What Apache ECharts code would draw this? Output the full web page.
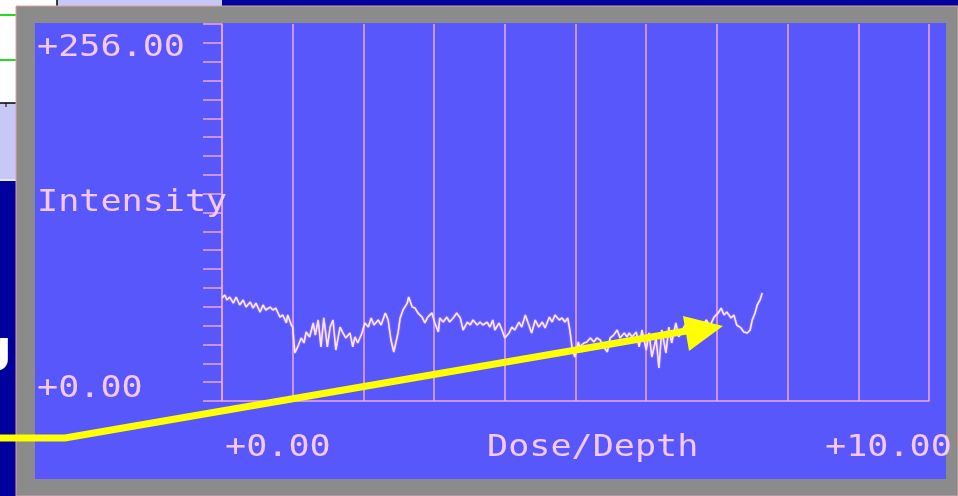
<!DOCTYPE html>
<html>
<head>
<meta charset="utf-8">
<script src="https://cdn.jsdelivr.net/npm/echarts@6/dist/echarts.min.js"></script>
<style>
html,body{margin:0;padding:0;background:#00009c;}
#chart{width:958px;height:496px;}
</style>
</head>
<body>
<div id="chart"></div>
<script>
// Dose/Depth positions (x) and Intensity values (y)
const dose = [0.00,0.04,0.07,0.11,0.16,0.20,0.25,0.30,0.34,0.40,0.44,0.48,0.54,0.58,0.62,0.68,0.72,0.76,0.82,0.86,0.91,0.93,0.98,1.00,
1.03,1.07,1.12,1.16,1.19,1.24,1.29,1.32,1.36,1.40,1.44,1.49,1.53,1.57,1.61,1.67,1.71,1.75,1.81,1.85,1.88,1.92,1.98,
2.02,2.07,2.11,2.15,2.21,2.25,2.31,2.35,2.39,2.43,2.49,2.52,2.56,2.62,2.64,2.69,2.73,2.77,2.83,2.87,2.91,2.97,
3.01,3.06,3.08,3.13,3.18,3.22,3.27,3.32,3.37,3.41,3.47,3.51,3.55,3.61,3.65,3.69,3.75,3.79,3.83,3.86,3.92,3.96,
4.00,4.06,4.10,4.14,4.20,4.24,4.29,4.34,4.38,4.43,4.48,4.53,4.57,4.63,4.67,4.71,4.77,4.81,4.85,4.89,4.92,4.95,4.99,
5.04,5.06,5.12,5.16,5.21,5.26,5.30,5.35,5.40,5.45,5.49,5.54,5.59,5.63,5.69,5.73,5.76,5.80,5.86,5.90,5.94,
6.00,6.04,6.08,6.14,6.18,6.22,6.28,6.32,6.36,6.42,6.46,6.55,6.62,6.70,6.77,6.85,6.90,6.96,
7.02,7.06,7.10,7.14,7.20,7.24,7.28,7.34,7.38,7.43,7.47,7.50,7.54,7.57,7.61,7.64];
const intensity = [69.9,72.0,68.6,70.6,66.5,70.6,65.2,68.6,63.8,67.2,63.1,66.5,60.4,65.2,61.8,63.8,61.8,63.1,57.0,58.4,53.0,58.4,51.6,50.2,
32.6,36.7,42.8,39.4,46.9,43.5,53.0,44.8,55.0,36.7,56.4,36.7,50.2,55.0,34.6,50.2,46.2,42.8,46.2,36.7,43.5,39.4,46.2,
53.0,50.2,56.4,51.6,55.0,51.6,59.8,55.0,41.4,33.3,46.2,56.4,61.8,66.5,70.6,63.8,63.1,59.8,57.0,53.0,57.0,59.8,
53.0,46.9,56.4,53.6,57.0,53.6,56.4,59.8,56.4,48.2,53.6,51.6,55.0,51.6,53.6,51.6,53.6,50.2,55.0,48.2,53.0,48.2,
42.8,46.2,50.2,48.2,53.6,50.2,58.4,51.6,46.2,55.0,50.2,53.6,49.6,57.0,53.6,58.4,55.0,56.4,53.6,56.4,48.2,36.7,29.9,
40.1,36.7,39.4,40.1,42.8,40.1,42.8,41.4,36.7,33.3,42.8,44.8,48.2,42.8,46.2,43.5,46.2,43.5,46.9,36.7,48.2,
34.6,46.2,29.9,42.8,22.4,48.2,32.6,50.2,39.4,53.0,43.5,51.6,44.8,53.6,48.2,55.0,50.9,57.0,
59.8,63.1,58.4,60.4,56.4,58.4,51.6,49.6,46.9,46.2,48.2,55.0,59.8,65.2,68.6,73.3];

const yTickLabels = ['+0.00', '+256.00'];
const xTickLabels = ['+0.00', '+10.00'];
const yName = 'Intensity';
const xName = 'Dose/Depth';

const pink = '#f0a6ee';
const textColor = '#f6c8f6';
const FONT = 'DejaVu Sans Mono';

const chart = echarts.init(document.getElementById('chart'), null, {renderer: 'canvas'});

const seriesData = dose.map((d, i) => [d, intensity[i]]);

function txt(text, x, y) {
  return {
    type: 'text', x: x, y: y, scaleX: 1.17, z: 50,
    style: {text: text, x: 0, y: 0, fill: textColor, font: '30px "' + FONT + '"',
            textAlign: 'left', textVerticalAlign: 'middle'}
  };
}

const background = [
  // top-left white panel & lavender
  {type: 'rect', shape: {x: 0, y: 0, width: 16, height: 103}, style: {fill: '#ffffff'}, z: -100},
  {type: 'rect', shape: {x: 0, y: 103, width: 16, height: 77}, style: {fill: '#c8c8f8'}, z: -100},
  {type: 'line', shape: {x1: 0, y1: 180, x2: 16, y2: 180}, style: {stroke: '#e8e8ff', lineWidth: 2}, z: -99},
  {type: 'line', shape: {x1: 0, y1: 15, x2: 16, y2: 15}, style: {stroke: '#22dd22', lineWidth: 2}, z: -99},
  {type: 'line', shape: {x1: 0, y1: 60, x2: 16, y2: 60}, style: {stroke: '#22dd22', lineWidth: 2}, z: -99},
  {type: 'line', shape: {x1: 0, y1: 103, x2: 16, y2: 103}, style: {stroke: '#000000', lineWidth: 1.5}, z: -99},
  {type: 'line', shape: {x1: 6, y1: 103, x2: 6, y2: 107}, style: {stroke: '#000000', lineWidth: 1}, z: -99},
  {type: 'rect', shape: {x: 16, y: 0, width: 41, height: 6}, style: {fill: '#ffffff'}, z: -100},
  {type: 'rect', shape: {x: 57, y: 0, width: 165, height: 6}, style: {fill: '#c8c8f8'}, z: -100},
  {type: 'line', shape: {x1: 57, y1: 0, x2: 57, y2: 6}, style: {stroke: '#000000', lineWidth: 1.5}, z: -99},
  // gray frame
  {type: 'rect', shape: {x: 16, y: 6, width: 942, height: 490}, style: {fill: '#8b8b8b', stroke: '#e0a0a0', lineWidth: 1}, z: -98},
  // blue panel
  {type: 'rect', shape: {x: 35, y: 23, width: 911, height: 456}, style: {fill: '#5757fb'}, z: -97},
  // white glyph fragment at left edge
  {type: 'text', x: -20, y: 351, z: -96, style: {text: 'g', fill: '#ffffff', font: 'bold 44px "DejaVu Sans"', textAlign: 'left', textVerticalAlign: 'middle'}}
];

const option = {
  backgroundColor: '#00009c',
  animation: false,
  grid: {left: 222, right: 29, top: 24, bottom: 95, show: false},
  xAxis: {
    type: 'value', min: 0, max: 10, interval: 1,
    axisLine: {show: true, onZero: false, lineStyle: {color: pink, width: 1.5}},
    axisTick: {show: false},
    axisLabel: {show: false},
    splitLine: {show: true, lineStyle: {color: pink, width: 1.5}}
  },
  yAxis: {
    type: 'value', min: 0, max: 256, interval: 12.8,
    axisLine: {show: true, lineStyle: {color: pink, width: 1.5}},
    axisTick: {show: true, length: 19, lineStyle: {color: pink, width: 1.5}},
    axisLabel: {show: false},
    splitLine: {show: false}
  },
  series: [{
    type: 'line', data: seriesData, symbol: 'none', smooth: false,
    lineStyle: {color: '#fbe6fb', width: 1.6, shadowColor: 'rgba(255,170,255,0.7)', shadowBlur: 2},
    z: 5
  }],
  graphic: background
};
chart.setOption(option);

const p0 = chart.convertToPixel({gridIndex: 0}, [0, 0]);
const pTop = chart.convertToPixel({gridIndex: 0}, [0, 256]);
const p10 = chart.convertToPixel({gridIndex: 0}, [10, 0]);
const yMid = chart.convertToPixel({gridIndex: 0}, [0, 135]);

const labels = [
  txt(yTickLabels[1], 37, pTop[1] + 24),
  txt(yTickLabels[0], 37, p0[1] - 12),
  txt(yName, 37, 203),
  txt(xTickLabels[0], p0[0] + 3, p0[1] + 47),
  txt(xName, 487, p0[1] + 47),
  txt(xTickLabels[1], p10[0] - 104, p0[1] + 47)
];

const arrow = [
  {type: 'polyline', z: 60, shape: {points: [[-5, 438], [65, 438], [692, 330]]},
   style: {stroke: '#ffff00', lineWidth: 7, fill: null, lineJoin: 'miter'}},
  {type: 'polygon', z: 61, shape: {points: [[723, 326], [683, 316], [689, 351]]},
   style: {fill: '#ffff00'}}
];

chart.setOption({graphic: background.concat(labels, arrow)});
</script>
</body>
</html>
